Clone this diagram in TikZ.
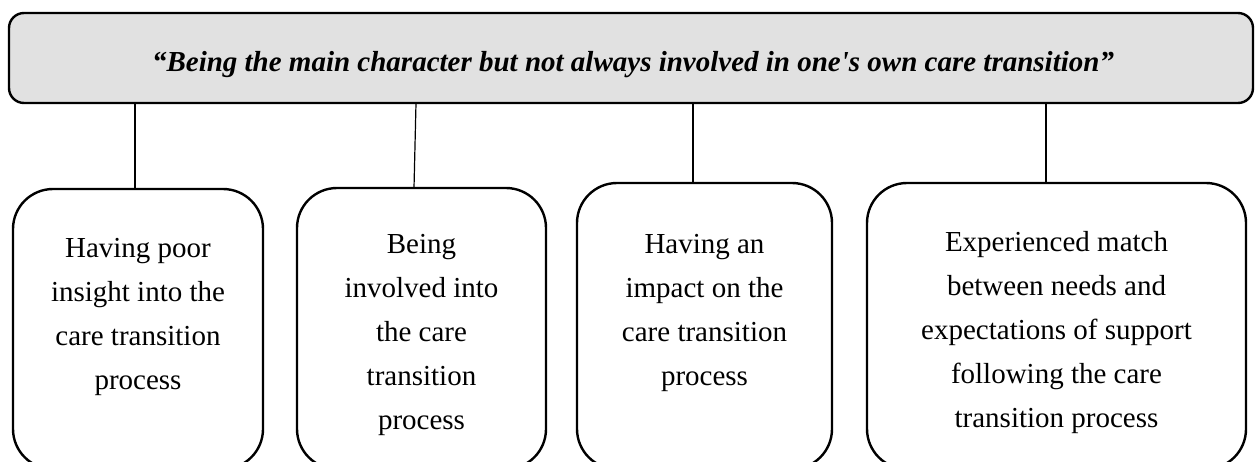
\documentclass[tikz,border=0pt]{standalone}
\usepackage{fontspec}
\setmainfont{Liberation Serif}
\definecolor{headgray}{HTML}{E1E1E1}
% straight typewriter apostrophe, bypassing the TeX quote mapping
\newcommand{\straightapos}{\XeTeXglyph\XeTeXglyphindex"quotesingle"\relax}
\begin{document}
\begin{tikzpicture}[x=1pt,y=-1pt,
  headbox/.style={draw, line width=2.4pt, fill=headgray, rounded corners=15pt,
    inner sep=0pt, outer sep=0pt, anchor=north west},
  headtext/.style={inner sep=0pt,
    font=\fontsize{29}{34}\selectfont\bfseries\itshape},
  themebox/.style={draw, line width=2.4pt, rounded corners=40pt,
    inner sep=0pt, outer sep=0pt, anchor=north west},
  themetext/.style={align=center, inner sep=0pt,
    font=\fontsize{29}{44}\selectfont},
  link/.style={line width=1.2pt}]
\useasboundingbox (0,0) rectangle (1255,461);
\clip (0,0) rectangle (1255,461);

% overarching theme
\node[headbox, minimum width=1244pt, minimum height=90pt] (head) at (9,13) {};
\node[headtext] (headlabel) at (633,65)
  {“Being the main character but not always involved in one\straightapos s own care transition”};

% sub-theme boxes
\node[themebox, minimum width=250pt, minimum height=280pt] (b1) at (13,189) {};
\node[themebox, minimum width=249pt, minimum height=281pt] (b2) at (297,188) {};
\node[themebox, minimum width=255pt, minimum height=286pt] (b3) at (577,183) {};
\node[themebox, minimum width=379pt, minimum height=286pt] (b4) at (867,183) {};

% sub-theme texts
\node[themetext] (t1) at (138,317) {Having poor\\insight into the\\care transition\\process};
\node[themetext] (t2) at (421.5,335) {Being\\involved into\\the care\\transition\\process};
\node[themetext] (t3) at (704.5,313) {Having an\\impact on the\\care transition\\process};
\node[themetext] (t4) at (1056.5,333) {Experienced match\\between needs and\\expectations of support\\following the care\\transition process};

% connectors
\draw[link] (head.south -| 135,0) -- (b1.north -| 135,0);
\draw[link] (head.south -| 416,0) -- (b2.north -| 414,0);
\draw[link] (head.south -| 693,0) -- (b3.north -| 693,0);
\draw[link] (head.south -| 1046,0) -- (b4.north -| 1046,0);
\end{tikzpicture}
\end{document}
